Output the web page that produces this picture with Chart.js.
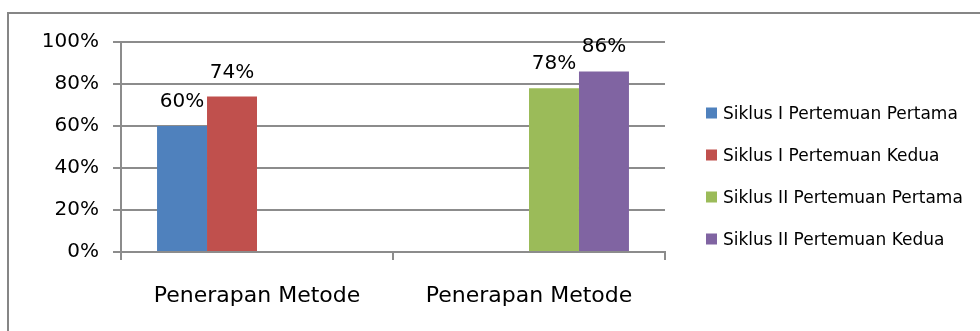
<!DOCTYPE html>
<html>
<head>
<meta charset="utf-8">
<script src="https://cdn.jsdelivr.net/npm/chart.js@4/dist/chart.umd.min.js"></script>
<style>
html,body{margin:0;padding:0;background:#fff;}
#wrap{width:980px;height:331px;position:relative;}
</style>
</head>
<body>
<div id="wrap"><canvas id="c" width="980" height="331"></canvas></div>
<script>
const categories = ['Penerapan Metode', 'Penerapan Metode'];
const seriesNames = ['Siklus I Pertemuan Pertama', 'Siklus I Pertemuan Kedua', 'Siklus II Pertemuan Pertama', 'Siklus II Pertemuan Kedua'];
const siklus1Pertama = [60, null];
const siklus1Kedua = [74, null];
const siklus2Pertama = [null, 78];
const siklus2Kedua = [null, 86];
const yTicks = [0, 20, 40, 60, 80, 100];
const colors = ['#4F81BD', '#C0504D', '#9BBB59', '#8064A2'];

const FONT = '"DejaVu Sans", sans-serif';
const seriesData = [siklus1Pertama, siklus1Kedua, siklus2Pertama, siklus2Kedua];

const framePlugin = {
  id: 'frame',
  beforeDraw(chart) {
    const ctx = chart.ctx;
    ctx.save();
    ctx.fillStyle = '#fff';
    ctx.fillRect(0, 0, chart.width, chart.height);
    ctx.strokeStyle = '#868686';
    ctx.lineWidth = 2;
    ctx.beginPath();
    ctx.moveTo(8, chart.height);
    ctx.lineTo(8, 13);
    ctx.lineTo(chart.width, 13);
    ctx.stroke();
    ctx.restore();
  }
};

const valueLabels = {
  id: 'valueLabels',
  afterDatasetsDraw(chart) {
    const ctx = chart.ctx;
    ctx.save();
    ctx.font = '20px ' + FONT;
    ctx.fillStyle = '#000';
    ctx.textAlign = 'center';
    ctx.textBaseline = 'alphabetic';
    chart.data.datasets.forEach((ds, i) => {
      const meta = chart.getDatasetMeta(i);
      meta.data.forEach((el, j) => {
        const v = ds.data[j];
        if (v === null || v === undefined) return;
        ctx.fillText(v + '%', el.x, el.y - 19);
      });
    });
    ctx.restore();
  }
};

const sideLegend = {
  id: 'sideLegend',
  afterDraw(chart) {
    const ctx = chart.ctx;
    ctx.save();
    ctx.font = '17px ' + FONT;
    ctx.textBaseline = 'alphabetic';
    ctx.textAlign = 'left';
    chart.data.datasets.forEach((ds, i) => {
      const cy = 113 + i * 42;
      ctx.fillStyle = ds.backgroundColor;
      ctx.fillRect(706, cy - 5.5, 11, 11);
      ctx.fillStyle = '#000';
      ctx.fillText(ds.label, 723, cy + 6);
    });
    ctx.restore();
  }
};

new Chart(document.getElementById('c'), {
  type: 'bar',
  data: {
    labels: categories,
    datasets: seriesNames.map((name, i) => ({
      label: name,
      data: seriesData[i],
      backgroundColor: colors[i],
      borderWidth: 0,
      categoryPercentage: 0.735,
      barPercentage: 1.0
    }))
  },
  options: {
    responsive: false,
    animation: false,
    devicePixelRatio: 1,
    layout: { padding: { left: 0, top: 42, right: 315, bottom: 0 } },
    plugins: {
      legend: { display: false },
      tooltip: { enabled: false }
    },
    scales: {
      x: {
        grid: { display: true, drawOnChartArea: false, offset: true, tickLength: 8, color: '#8c8c8c', lineWidth: 2 },
        border: { color: '#8c8c8c', width: 2 },
        ticks: { color: '#000', font: { family: FONT, size: 22 }, padding: 23, maxRotation: 0 },
        afterFit(scale) { scale.height = 79; }
      },
      y: {
        min: 0, max: 100,
        afterBuildTicks(scale) { scale.ticks = yTicks.map(v => ({ value: v })); },
        grid: { color: '#8c8c8c', lineWidth: 2, tickLength: 8 },
        border: { color: '#8c8c8c', width: 2 },
        ticks: { color: '#000', font: { family: FONT, size: 20 }, padding: 14, callback: v => v + '%' },
        afterFit(scale) { scale.width = 121; }
      }
    }
  },
  plugins: [framePlugin, valueLabels, sideLegend]
});
</script>
</body>
</html>
